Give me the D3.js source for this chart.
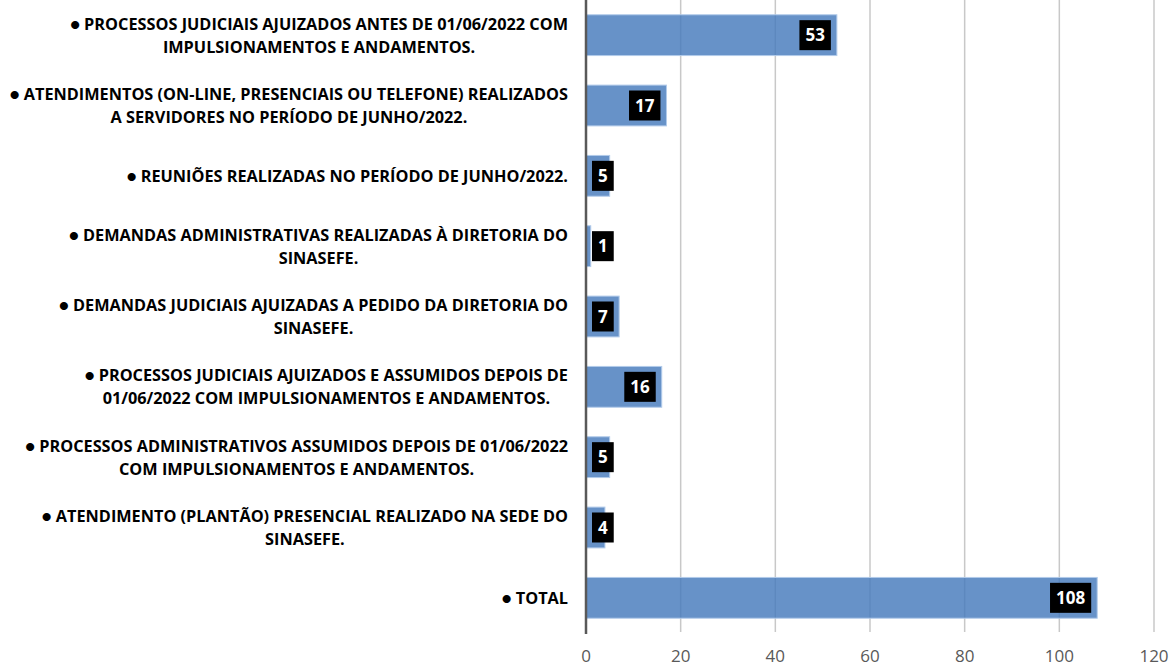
<!DOCTYPE html>
<html>
<head>
<meta charset="utf-8">
<script src="https://cdn.jsdelivr.net/npm/d3@7"></script>
<style>
  body { margin: 0; background: #fff; }
  svg { display: block; }
</style>
</head>
<body>
<svg width="1173" height="666"></svg>
<script>
var categories = [
  ["● PROCESSOS JUDICIAIS AJUIZADOS ANTES DE 01/06/2022  COM", "IMPULSIONAMENTOS E ANDAMENTOS."],
  ["● ATENDIMENTOS (ON-LINE, PRESENCIAIS OU TELEFONE) REALIZADOS", "A SERVIDORES NO PERÍODO DE JUNHO/2022."],
  ["● REUNIÕES REALIZADAS NO PERÍODO DE JUNHO/2022."],
  ["● DEMANDAS ADMINISTRATIVAS REALIZADAS À DIRETORIA DO", "SINASEFE."],
  ["● DEMANDAS JUDICIAIS AJUIZADAS A PEDIDO DA DIRETORIA DO", "SINASEFE."],
  ["● PROCESSOS JUDICIAIS AJUIZADOS E ASSUMIDOS DEPOIS DE", "01/06/2022 COM IMPULSIONAMENTOS E ANDAMENTOS."],
  ["● PROCESSOS ADMINISTRATIVOS ASSUMIDOS DEPOIS DE 01/06/2022", "COM IMPULSIONAMENTOS E ANDAMENTOS."],
  ["● ATENDIMENTO (PLANTÃO) PRESENCIAL REALIZADO NA SEDE DO", "SINASEFE."],
  ["● TOTAL"]
];
var values = [53, 17, 5, 1, 7, 16, 5, 4, 108];
var xTicks = [0, 20, 40, 60, 80, 100, 120];

var svg = d3.select("svg");
var data = categories.map(function(c, i) { return {lines: c, value: values[i], id: i}; });

var x = d3.scaleLinear().domain([0, 120]).range([586, 1154]);
var y = d3.scaleBand()
    .domain(data.map(function(d) { return d.id; }))
    .range([0, 633])
    .paddingInner(0.42)
    .paddingOuter(0.21);

var labelFont = "'Open Sans', Lato, sans-serif";

// gridlines
svg.append("g")
  .selectAll("line")
  .data(xTicks.slice(1))
  .enter().append("line")
    .attr("x1", function(d) { return x(d); })
    .attr("x2", function(d) { return x(d); })
    .attr("y1", 0)
    .attr("y2", 632)
    .attr("stroke", "#c8c8c8")
    .attr("stroke-width", 1.5);

// bars
svg.append("g")
  .selectAll("rect")
  .data(data)
  .enter().append("rect")
    .attr("x", x(0))
    .attr("y", function(d) { return y(d.id); })
    .attr("width", function(d) { return x(d.value) - x(0); })
    .attr("height", y.bandwidth())
    .attr("fill", "rgba(70,122,188,0.82)")
    .attr("stroke", "#b2cbea")
    .attr("stroke-width", 1);

// axis line
svg.append("line")
    .attr("x1", x(0)).attr("x2", x(0))
    .attr("y1", 0).attr("y2", 634)
    .attr("stroke", "#595959")
    .attr("stroke-width", 2.5);

// x tick labels
svg.append("g")
  .selectAll("text")
  .data(xTicks)
  .enter().append("text")
    .attr("x", function(d) { return x(d); })
    .attr("y", 662)
    .attr("text-anchor", "middle")
    .attr("font-family", labelFont)
    .attr("font-size", 17)
    .attr("fill", "#595959")
    .text(function(d) { return d; });

// category labels, centred lines, block right aligned
var lineH = 23;
var cat = svg.append("g")
  .selectAll("g")
  .data(data)
  .enter().append("g");

cat.each(function(d) {
  var g = d3.select(this);
  var cy = y(d.id) + y.bandwidth() / 2;
  var n = d.lines.length;
  var texts = g.selectAll("text")
    .data(d.lines)
    .enter().append("text")
      .attr("y", function(l, i) { return cy + (i - (n - 1) / 2) * lineH + 6; })
      .attr("text-anchor", "middle")
      .attr("font-family", labelFont)
      .attr("font-weight", "bold")
      .attr("font-size", 16.3)
      .attr("fill", "#000")
      .text(function(l) { return l; });
  var w = d3.max(texts.nodes(), function(t) { return t.getComputedTextLength(); });
  texts.attr("x", 568 - w / 2);
});

// value labels
var vl = svg.append("g")
  .selectAll("g")
  .data(data)
  .enter().append("g");

vl.each(function(d) {
  var g = d3.select(this);
  var cy = y(d.id) + y.bandwidth() / 2;
  var t = g.append("text")
      .attr("text-anchor", "middle")
      .attr("font-family", labelFont)
      .attr("font-weight", "bold")
      .attr("font-size", 17)
      .attr("fill", "#fff")
      .attr("y", cy + 6)
      .text(d.value);
  var w = t.node().getComputedTextLength() + 12;
  var right = Math.max(x(d.value) - 6, x(0) + 6 + w);
  g.insert("rect", "text")
      .attr("x", right - w)
      .attr("y", cy - 15)
      .attr("width", w)
      .attr("height", 30)
      .attr("fill", "#000");
  t.attr("x", right - w / 2);
});
</script>
</body>
</html>
